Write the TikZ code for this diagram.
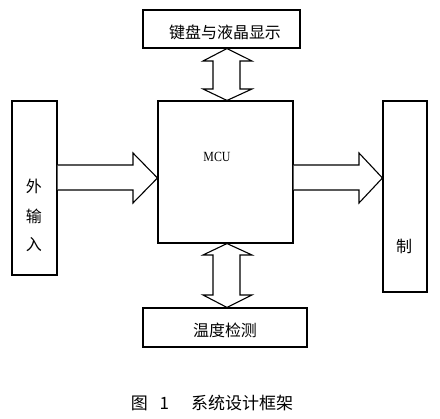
\documentclass[tikz,border=0pt]{standalone}
\usepackage{fontspec}
\setmainfont{Liberation Serif}
\newfontfamily\cjk{Noto Sans CJK SC}
\begin{document}
\begin{tikzpicture}[x=1pt,y=-1pt,
  box/.style={draw,line width=1.1pt,inner sep=0pt},
  blockarrow/.style={draw,line width=1.1pt,line join=miter,fill=white},
  lbl/.style={font=\cjk\fontsize{16}{18}\selectfont,inner sep=0pt}]
\useasboundingbox (0,0) rectangle (440,419);
% boxes
\node[box,minimum width=157pt,minimum height=38pt] (top) at (221.5,29) {};
\node[box,minimum width=135pt,minimum height=142pt] (mcu) at (225.5,172) {};
\node[box,minimum width=45pt,minimum height=174pt] (in) at (34.5,188) {};
\node[box,minimum width=44pt,minimum height=191pt] (out) at (405,196.5) {};
\node[box,minimum width=164pt,minimum height=39pt] (bot) at (225,327.5) {};
% labels
\node[lbl] (ttop) at (225,32) {键盘与液晶显示};
\node[inner sep=0pt,font=\fontsize{14}{16}\selectfont,xscale=0.85] (tmcu) at (217,157) {MCU};
\node[lbl] (tin1) at (34,186) {外};
\node[lbl] (tin2) at (34,216) {输};
\node[lbl] (tin3) at (34,245) {入};
\node[lbl] (tout) at (404,246) {制};
\node[lbl] (tbot) at (225,330) {温度检测};
\node[inner sep=0pt,font=\cjk\fontsize{17}{19}\selectfont] (cap) at (212,403) {图\hspace{0.7em}1\hspace{1.3em}系统设计框架};
% block arrows
\draw[blockarrow] (in.east |- 0,165) -- (133,165) -- (133,153) -- (mcu.west |- 0,178) -- (133,203) -- (133,190) -- (in.east |- 0,190);
\draw[blockarrow] (mcu.east |- 0,165) -- (359,165) -- (359,153) -- (out.west |- 0,178) -- (359,203) -- (359,190) -- (mcu.east |- 0,190);
\draw[blockarrow] (227,0 |- top.south) -- (252,61) -- (240,61) -- (240,89) -- (252,89) -- (227,0 |- mcu.north) -- (203,89) -- (213,89) -- (213,61) -- (203,61) -- cycle;
\draw[blockarrow] (227,0 |- mcu.south) -- (252,255) -- (240,255) -- (240,295) -- (252,295) -- (227,0 |- bot.north) -- (203,295) -- (213,295) -- (213,255) -- (203,255) -- cycle;
\end{tikzpicture}
\end{document}
